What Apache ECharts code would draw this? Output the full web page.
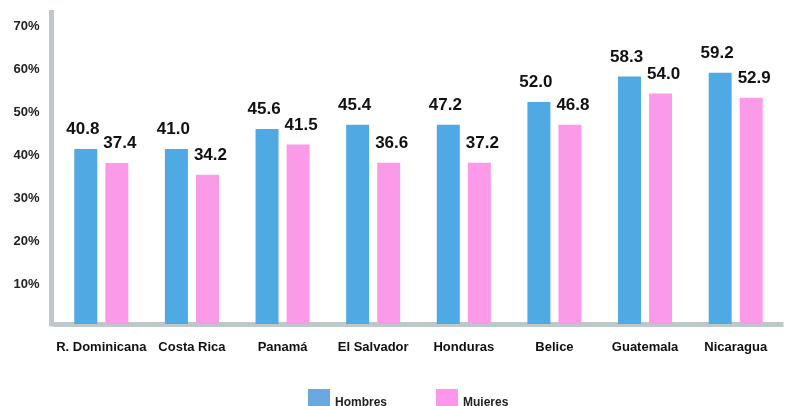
<!DOCTYPE html>
<html>
<head>
<meta charset="utf-8">
<script src="https://cdn.jsdelivr.net/npm/echarts@6/dist/echarts.min.js"></script>
<style>
html,body{margin:0;padding:0;background:#fff;}
#chart{width:791px;height:406px;}
</style>
</head>
<body>
<div id="chart"></div>
<script>
// Categories
var categories = ['R. Dominicana', 'Costa Rica', 'Panamá', 'El Salvador', 'Honduras', 'Belice', 'Guatemala', 'Nicaragua'];
// Bar heights as drawn in the picture (%)
var hombres = [40.7, 40.7, 45.3, 46.3, 46.3, 51.6, 57.5, 58.4];
var mujeres = [37.4, 34.7, 41.7, 37.5, 37.5, 46.3, 53.6, 52.6];
// Printed value labels
var hombresLabels = ['40.8', '41.0', '45.6', '45.4', '47.2', '52.0', '58.3', '59.2'];
var mujeresLabels = ['37.4', '34.2', '41.5', '36.6', '37.2', '46.8', '54.0', '52.9'];
// Y axis ticks
var yMin = 0, yMax = 72.4, yInterval = 10;

var FONT = '"Liberation Sans", Arial, Helvetica, sans-serif';
var chart = echarts.init(document.getElementById('chart'), null, {renderer: 'canvas'});

function labelCfg(texts, dx) {
  return {
    show: true,
    position: 'top',
    distance: 11,
    offset: [dx, 0],
    color: '#111',
    fontFamily: FONT,
    fontWeight: 'bold',
    fontSize: 17,
    formatter: function (p) { return texts[p.dataIndex]; }
  };
}

chart.setOption({
  animation: false,
  backgroundColor: '#ffffff',
  grid: {left: 56, right: 10, top: 12.5, bottom: 82, containLabel: false},
  legend: {
    left: 308,
    top: 389,
    padding: 0,
    itemWidth: 22,
    itemHeight: 22,
    itemGap: 49,
    icon: 'rect',
    formatter: '{a|{name}}',
    textStyle: {
      fontFamily: FONT, fontWeight: 'bold', fontSize: 12, color: '#222',
      rich: {a: {fontFamily: FONT, fontWeight: 'bold', fontSize: 12, color: '#222', padding: [6, 0, 0, 0]}}
    },
    data: [
      {name: 'Hombres', itemStyle: {color: '#6aa8e0'}},
      {name: 'Mujeres', itemStyle: {color: '#fc97ec'}}
    ]
  },
  xAxis: {
    type: 'category',
    data: categories,
    axisLine: {show: true, lineStyle: {color: '#bec8ca', width: 5, cap: 'square'}},
    axisTick: {show: false},
    axisLabel: {
      margin: 17,
      color: '#111',
      fontFamily: FONT,
      fontWeight: 'bold',
      fontSize: 13,
      interval: 0
    }
  },
  yAxis: {
    type: 'value',
    min: yMin,
    max: yMax,
    interval: yInterval,
    offset: 4.5,
    axisLine: {show: true, lineStyle: {color: '#bec8ca', width: 5, cap: 'square'}},
    axisTick: {show: false},
    splitLine: {show: false},
    axisLabel: {
      margin: 12,
      color: '#222',
      fontFamily: FONT,
      fontWeight: 'bold',
      fontSize: 13,
      verticalAlign: 'top',
      lineHeight: 7,
      formatter: function (v) {
        if (v === 0 || v % 10 !== 0) return '';
        return v + '%';
      }
    }
  },
  series: [
    {
      name: 'Hombres',
      type: 'bar',
      data: hombres,
      barWidth: 23,
      barGap: '35%',
      itemStyle: {color: '#4fa9e2'},
      label: labelCfg(hombresLabels, -3)
    },
    {
      name: 'Mujeres',
      type: 'bar',
      data: mujeres,
      barWidth: 23,
      itemStyle: {color: '#fc9aea'},
      label: labelCfg(mujeresLabels, 3)
    }
  ]
});
</script>
</body>
</html>
